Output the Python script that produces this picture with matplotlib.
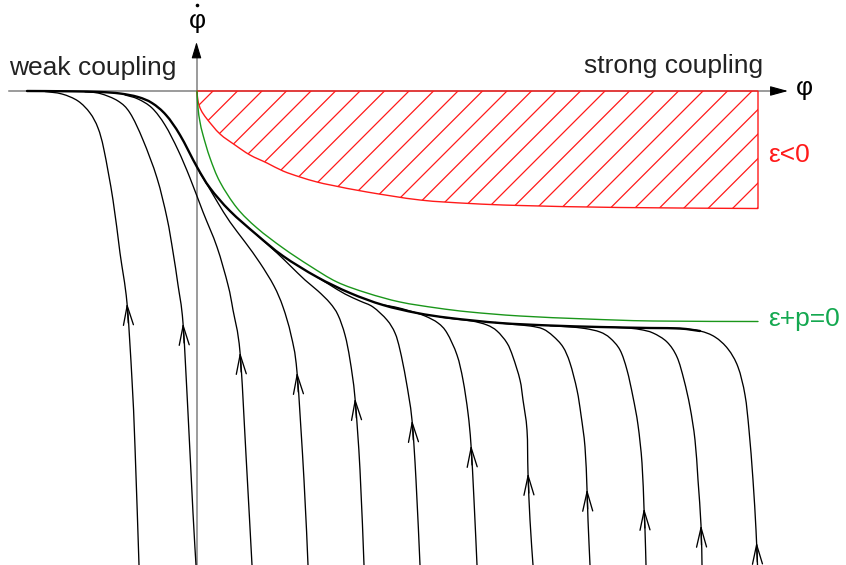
import numpy as np
import matplotlib
matplotlib.use("Agg")
import matplotlib.pyplot as plt
from matplotlib.path import Path
from matplotlib.patches import PathPatch

plt.rcParams['font.family'] = ['Liberation Sans', 'DejaVu Sans']

# attractor (the thick curve), phi vs dphi/dt
sep_phi = [-1.70, -1.27, -0.97, -0.77, -0.59, -0.45, -0.31, -0.17, 0.00, 0.13, 0.33, 0.60,
           0.86, 1.20, 1.53, 1.86, 2.20, 2.53, 3.03, 3.53, 4.03, 4.53, 4.83, 5.03]
sep_dphi = [0.00, -0.003, -0.01, -0.025, -0.06, -0.12, -0.24, -0.44, -0.76, -0.97, -1.20, -1.44,
            -1.65, -1.86, -2.02, -2.14, -2.22, -2.27, -2.32, -2.345, -2.36, -2.37, -2.375, -2.40]

# trajectories, listed from the bottom up
traj_phi = [
    [-0.58, -0.62, -0.65, -0.70, -0.77, -0.84, -0.93, -0.99, -1.07, -1.19, -1.35, -1.52],
    [-0.01, -0.04, -0.09, -0.14, -0.19, -0.24, -0.30, -0.40, -0.54, -0.67, -0.79, -0.97, -1.12],
    [0.55, 0.49, 0.43, 0.36, 0.31, 0.20, 0.06, -0.07, -0.19, -0.32, -0.45, -0.59, -0.72],
    [1.11, 1.07, 1.00, 0.94, 0.86, 0.77, 0.63, 0.48, 0.33, 0.21, 0.11, 0.03],
    [1.67, 1.63, 1.58, 1.53, 1.48, 1.41, 1.33, 1.21, 1.08, 0.93, 0.80, 0.60],
    [2.23, 2.19, 2.15, 2.09, 2.03, 1.98, 1.90, 1.76, 1.63, 1.48, 1.33, 1.20],
    [2.80, 2.77, 2.74, 2.71, 2.66, 2.60, 2.50, 2.41, 2.28, 2.13, 1.98, 1.86],
    [3.36, 3.33, 3.31, 3.30, 3.26, 3.23, 3.16, 3.10, 3.00, 2.90, 2.75, 2.58, 2.43],
    [3.93, 3.91, 3.90, 3.88, 3.84, 3.80, 3.73, 3.66, 3.56, 3.46, 3.33, 3.15, 2.98],
    [4.49, 4.48, 4.47, 4.45, 4.41, 4.36, 4.30, 4.23, 4.13, 4.03, 3.88, 3.71, 3.53],
    [5.05, 5.04, 5.01, 4.98, 4.93, 4.87, 4.80, 4.70, 4.56, 4.43, 4.28, 4.08],
    [5.605, 5.59, 5.56, 5.52, 5.48, 5.41, 5.31, 5.18, 5.03, 4.83, 4.63],
]
traj_dphi = [
    [-4.74, -3.56, -2.89, -2.12, -1.62, -1.09, -0.59, -0.37, -0.22, -0.10, -0.03, -0.005],
    [-4.74, -4.22, -3.22, -2.32, -1.94, -1.61, -1.27, -0.87, -0.49, -0.22, -0.10, -0.025, -0.008],
    [-4.74, -3.64, -2.61, -2.19, -1.94, -1.56, -1.21, -0.87, -0.59, -0.34, -0.17, -0.08, -0.04],
    [-4.74, -3.89, -2.81, -2.44, -2.16, -1.95, -1.72, -1.51, -1.31, -1.12, -0.95, -0.82],
    [-4.74, -3.79, -3.07, -2.69, -2.44, -2.24, -2.12, -2.00, -1.89, -1.745, -1.62, -1.44],
    [-4.74, -3.89, -3.29, -2.89, -2.59, -2.42, -2.29, -2.16, -2.10, -2.03, -1.94, -1.86],
    [-4.74, -4.09, -3.54, -3.22, -2.89, -2.64, -2.42, -2.32, -2.25, -2.20, -2.16, -2.14],
    [-4.74, -4.29, -3.82, -3.39, -3.09, -2.89, -2.66, -2.52, -2.40, -2.34, -2.30, -2.28, -2.26],
    [-4.74, -4.29, -3.98, -3.56, -3.24, -2.99, -2.72, -2.56, -2.45, -2.38, -2.35, -2.333, -2.315],
    [-4.74, -4.39, -4.17, -3.72, -3.34, -3.06, -2.79, -2.59, -2.47, -2.41, -2.375, -2.358, -2.347],
    [-4.74, -4.34, -3.89, -3.49, -3.16, -2.89, -2.66, -2.51, -2.42, -2.385, -2.368, -2.36],
    [-4.74, -4.39, -3.89, -3.39, -3.04, -2.76, -2.58, -2.46, -2.40, -2.375, -2.37],
]
# height of the arrow tip on each trajectory
arrow_dphi = [-2.12, -2.32, -2.61, -2.81, -3.07, -3.29, -3.54, -3.82, -3.98, -4.17, -4.34, -4.51]

# boundary of the eps<0 region
eps_phi = [0.0, 0.01, 0.04, 0.10, 0.23, 0.38, 0.53, 0.70, 0.86, 1.03, 1.20, 1.36, 1.70,
           2.23, 2.73, 3.23, 4.23, 5.61]
eps_dphi = [0.0, -0.10, -0.19, -0.28, -0.43, -0.54, -0.64, -0.72, -0.80, -0.86, -0.91, -0.945,
            -1.01, -1.09, -1.125, -1.145, -1.165, -1.175]

# eps + p = 0 curve
ep_phi = [0.0, 0.01, 0.03, 0.06, 0.13, 0.23, 0.40, 0.60, 0.86, 1.13, 1.40, 1.70, 2.03, 2.40,
          2.73, 3.23, 3.90, 4.56, 5.61]
ep_dphi = [0.0, -0.17, -0.31, -0.44, -0.67, -0.91, -1.17, -1.37, -1.57, -1.75, -1.91, -2.02,
           -2.11, -2.17, -2.21, -2.25, -2.28, -2.30, -2.305]

RED = '#ff1a1a'
GREEN_LINE = '#1a961a'
GREEN_TEXT = '#14a850'
GREY = '#808080'


def smooth_verts(xs, ys):
    # catmull-rom through the points, as cubic bezier pieces
    pts = np.column_stack([xs, ys]).astype(float)
    n = len(pts)
    verts = [pts[0]]
    codes = [Path.MOVETO]
    for i in range(n - 1):
        p0 = pts[i - 1] if i > 0 else pts[i]
        p1 = pts[i]
        p2 = pts[i + 1]
        p3 = pts[i + 2] if i + 2 < n else pts[i + 1]
        verts += [p1 + (p2 - p0) / 6, p2 - (p3 - p1) / 6, p2]
        codes += [Path.CURVE4] * 3
    return verts, codes


def draw_curve(ax, xs, ys, **kw):
    verts, codes = smooth_verts(xs, ys)
    ax.add_patch(PathPatch(Path(verts, codes), fill=False, capstyle='round', **kw))


fig = plt.figure(figsize=(8.46, 5.65), dpi=100)
ax = fig.add_axes([0, 0, 1, 1])
ax.set_xlim(-1.97, 6.49)
ax.set_ylim(-4.74, 0.91)
ax.axis('off')

# axes with arrow heads
ax.plot([-1.88, 5.80], [0, 0], color=GREY, lw=1.1, zorder=1)
ax.plot([-0.005, -0.005], [-4.74, 0.38], color=GREY, lw=1.1, zorder=1)
ax.annotate('', xy=(5.91, 0), xytext=(5.78, 0),
            arrowprops=dict(arrowstyle='-|>,head_length=1.1,head_width=0.3', color='black',
                            lw=0.8, shrinkA=0, shrinkB=0, mutation_scale=10))
ax.annotate('', xy=(-0.005, 0.49), xytext=(-0.005, 0.36),
            arrowprops=dict(arrowstyle='-|>,head_length=1.0,head_width=0.3', color='black',
                            lw=0.8, shrinkA=0, shrinkB=0, mutation_scale=10))

# eps < 0 region, hatched
verts, codes = smooth_verts(eps_phi, eps_dphi)
verts += [(eps_phi[-1], 0.0), (0.0, 0.0)]
codes += [Path.LINETO, Path.CLOSEPOLY]
region = PathPatch(Path(verts, codes), facecolor='none', edgecolor=RED, lw=1.0, zorder=3)
ax.add_patch(region)
for c in np.arange(0.16, eps_phi[-1] + 1.3, 0.245):
    ln, = ax.plot([c - 1.4, c], [-1.4, 0.0], color=RED, lw=0.9, zorder=2)
    ln.set_clip_path(region)

# eps + p = 0
draw_curve(ax, ep_phi, ep_dphi, edgecolor=GREEN_LINE, lw=1.0, zorder=3)

# trajectories and the attractor
for xs, ys, ya in zip(traj_phi, traj_dphi, arrow_dphi):
    draw_curve(ax, xs, ys, edgecolor='black', lw=0.95, zorder=4)
    xa = np.interp(ya, ys, xs)
    xb = np.interp(ya - 0.2, ys, xs)
    ax.annotate('', xy=(xa, ya), xytext=(xb, ya - 0.2),
                arrowprops=dict(arrowstyle='->,head_length=1.4,head_width=0.36', color='black',
                                lw=0.95, shrinkA=0, shrinkB=0, mutation_scale=10), zorder=5)
draw_curve(ax, sep_phi, sep_dphi, edgecolor='black', lw=1.7, zorder=5)

# labels (phi-dot: the dot drawn as a tiny marker above the letter)
ax.text(0.0, 0.70, 'φ', fontsize=19, ha='center', va='center')
ax.plot([0.0], [0.865], marker='o', ms=2.6, color='black', mew=0)
ax.text(6.07, 0.03, 'φ', fontsize=19, ha='center', va='center')
ax.text(-1.88, 0.16, 'weak coupling', fontsize=19, ha='left', va='baseline', color='#222222')
ax.text(5.66, 0.177, 'strong coupling', fontsize=19, ha='right', va='baseline', color='#222222')
ax.text(5.71, -0.64, 'ε<0', fontsize=19, ha='left', va='center', color=RED)
ax.text(5.71, -2.28, 'ε+p=0', fontsize=19, ha='left', va='center', color=GREEN_TEXT)

fig.savefig('out.png', dpi=100)
